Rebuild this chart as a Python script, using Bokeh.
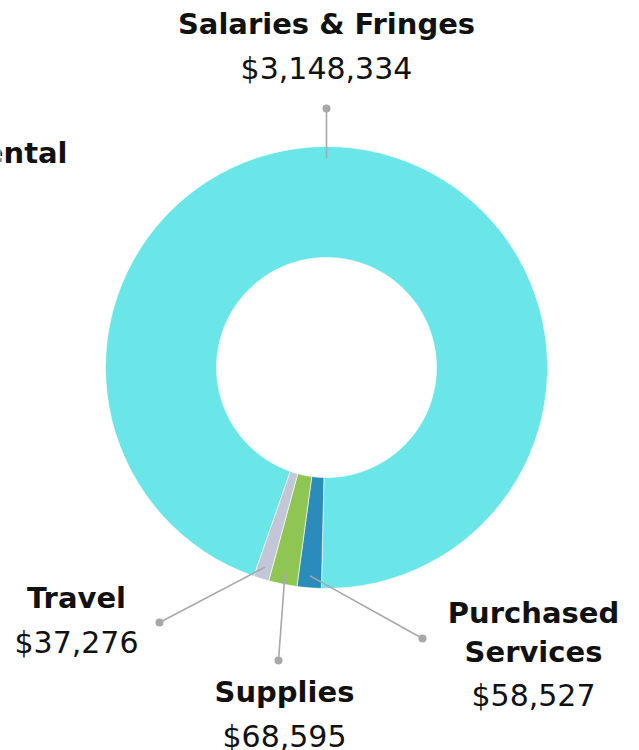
import math
from bokeh.plotting import figure
from bokeh.models import Range1d
from bokeh.core.properties import value
from bokeh.embed import file_html
from bokeh.resources import INLINE

# ---- data ----
categories = ["Salaries & Fringes", "Purchased Services", "Supplies", "Travel", "Equipment Rental"]
amounts = [3148334, 58527, 68595, 37276, 0]
colors = ["#6ae6e9", "#2b8bbb", "#8fc553", "#c3c6d6", "#c3c6d6"]

# ---- layout (reference pixel coordinates) ----
W, H = 639, 750
CX, CY = 326, 367
R_IN, R_OUT = 110, 221
START_DEG = 250.8
R_ANCHOR = 209
BASELINE_FIX = 12
LABEL_FONT = value("DejaVu Sans")
VALUE_FONT = value("DejaVu Sans")


def Y(y):
    return H - y


def YT(b):
    # text baseline position (compensate renderer offset)
    return H - (b - BASELINE_FIX)


p = figure(width=W, height=H, output_backend="svg", toolbar_location=None,
           x_range=Range1d(0, W), y_range=Range1d(0, H), min_border=0)
p.axis.visible = False
p.grid.visible = False
p.outline_line_color = None
p.background_fill_color = "white"
p.border_fill_color = "white"

total = sum(amounts)
cur = math.radians(START_DEG)
starts, ends, mids, keep = [], [], [], []
for i, a in enumerate(amounts):
    sweep = a / total * 2 * math.pi
    starts.append(cur)
    ends.append(cur - sweep)
    mids.append(cur - sweep / 2)
    cur -= sweep
    if a > 0:
        keep.append(i)

p.annular_wedge(x=[CX] * len(keep), y=[Y(CY)] * len(keep),
                inner_radius=R_IN, outer_radius=R_OUT,
                start_angle=[starts[i] for i in keep], end_angle=[ends[i] for i in keep],
                direction="clock",
                fill_color=[colors[i] for i in keep], line_color="white", line_width=0.6)

# connectors: anchor angle on slice, dot position for label
anchor_deg = {"Salaries & Fringes": 90.0}
dots = {"Salaries & Fringes": (326, 108), "Purchased Services": (422, 638),
        "Supplies": (278, 660), "Travel": (159, 622)}
for i, c in enumerate(categories):
    if c not in dots:
        continue
    ang = math.radians(anchor_deg[c]) if c in anchor_deg else mids[i]
    ax = CX + R_ANCHOR * math.cos(ang)
    ay = Y(CY) + R_ANCHOR * math.sin(ang)
    dx, dy = dots[c]
    p.line([ax, dx], [ay, Y(dy)], line_color="#a8a8a8", line_width=1.6)
    p.scatter([dx], [Y(dy)], size=8, fill_color="#a8a8a8", line_color=None)

# labels: (center x, label line baselines, value baseline, lines)
label_layout = {
    "Salaries & Fringes": (326, [35], 80, ["Salaries & Fringes"]),
    "Purchased Services": (533, [624, 663], 707, ["Purchased", "Services"]),
    "Supplies": (284, [703], 748, ["Supplies"]),
    "Travel": (76, [609], 654, ["Travel"]),
}
for i, c in enumerate(categories):
    if c in label_layout:
        x, bls, vb, lines = label_layout[c]
        for ln, b in zip(lines, bls):
            p.text([x], [YT(b)], text=[ln], text_align="center", text_baseline="alphabetic",
                   text_font=LABEL_FONT, text_font_style="bold", text_font_size="29px",
                   text_color="#111111")
        p.text([x], [YT(vb)], text=["$" + f"{amounts[i]:,}"], text_align="center",
               text_baseline="alphabetic", text_font=VALUE_FONT, text_font_size="30px",
               text_color="#111111")
    else:
        # label partly outside the visible area on the left
        p.text([67], [YT(164)], text=[c], text_align="right", text_baseline="alphabetic",
               text_font=LABEL_FONT, text_font_style="bold", text_font_size="29px",
               text_color="#111111")

open("out.html", "w").write(file_html(p, INLINE))
